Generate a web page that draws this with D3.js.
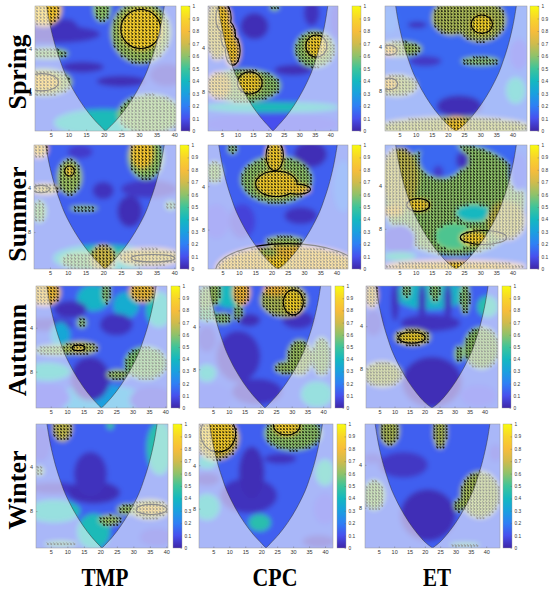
<!DOCTYPE html>
<html>
<head>
<meta charset="utf-8">
<script src="https://cdn.jsdelivr.net/npm/d3@7"></script>
<style>
  body { margin: 0; background: #fff; }
  svg { display: block; }
</style>
</head>
<body>
<div id="chart"></div>
<script>
// ---- data ----
const seasons = ["Spring", "Summer", "Autumn", "Winter"];
const factors = ["TMP", "CPC", "ET"];
// number of time steps in each panel
const seriesLength = [
  [40, 42, 44],
  [40, 43, 44],
  [40, 42, 44],
  [40, 42, 44],
];
const periodMin = 2.07;
const periodMax = [14.2, 15, 15.3];
const xTicks = [5, 10, 15, 20, 25, 30, 35, 40];
const yTicks = [4, 8];
const cbTicks = [0, 0.1, 0.2, 0.3, 0.4, 0.5, 0.6, 0.7, 0.8, 0.9, 1];
// cone of influence: period reached at a distance from the series edge
const coiDist = [3.2, 3.9, 4.6, 6.0, 7.4, 8.7, 11.5, 14.2, 16.9, 19.7];
const coiPeriod = [2, 2.5, 3, 4, 5, 6, 8, 10, 12, 14];
// base coherence of each panel
const baseLevel = [
  [0.13, 0.13, 0.15],
  [0.13, 0.13, 0.15],
  [0.13, 0.13, 0.13],
  [0.13, 0.13, 0.13],
];
// mean phase direction of arrows (deg, screen clockwise)
const phaseAngle = [
  [55, 50, 60],
  [60, 55, 65],
  [50, 55, 55],
  [55, 50, 60],
];

// coherence patches: [time, period, half-width (steps), half-height (octaves), coherence]
const springTmp = [
  [20, 12.5, 14, 0.3, 0.42], [5, 3.2, 14, 0.2, 0.03], [33, 11, 9, 0.45, 0.6],
  [38, 6, 5, 0.25, 0.05], [4, 4.3, 6, 0.12, 0.6], [3, 6.7, 8, 0.3, 0.62],
  [2.5, 6.7, 5, 0.2, 0.82], [9, 3, 4, 0.25, 0.03], [14, 5.3, 6, 0.12, 0.02],
  [25, 6.6, 7, 0.12, 0.02], [3, 2.2, 5, 0.35, 0.85], [19.5, 2.15, 2.5, 0.3, 0.6],
  [30.5, 3.1, 8.5, 0.7, 0.62], [30.7, 2.95, 6, 0.47, 0.88],
];
const springCpc = [
  [21, 10.3, 22, 0.12, 0.42], [21, 13.5, 22, 0.25, 0.1], [42, 2.6, 2, 0.4, 0.08],
  [15.5, 2.85, 4.5, 0.3, 0.02], [34, 2.3, 2.5, 0.3, 0.03], [28, 5.7, 6, 0.12, 0.02],
  [3.5, 3, 4, 0.7, 0.7], [5.5, 2.5, 2.5, 0.3, 0.85], [7, 3.3, 2.4, 0.3, 0.85],
  [8.5, 4.2, 2.5, 0.35, 0.85],
  [35, 4.1, 6.5, 0.42, 0.6], [35.5, 3.9, 3.5, 0.25, 0.88],
  [12, 7.3, 12, 0.38, 0.6], [4, 7.3, 4, 0.3, 0.75], [14, 7, 4, 0.25, 0.88],
  [22, 2.1, 1.5, 0.08, 0.6],
];
const springEt = [
  [2, 2.6, 2.5, 0.3, 0.18], [42, 4.5, 3, 0.35, 0.1], [41, 8, 3, 0.3, 0.42],
  [21, 2.5, 6, 0.4, 0.65], [30, 2.6, 8, 0.5, 0.65], [30.5, 2.77, 3.3, 0.22, 0.9],
  [10.5, 2.8, 3, 0.08, 0.03], [5, 4.1, 7, 0.18, 0.62], [1.8, 4.2, 2.5, 0.12, 0.8],
  [30, 5, 6, 0.1, 0.6], [13, 5, 5, 0.12, 0.04], [4, 7.4, 6.5, 0.25, 0.64],
  [1.8, 7.2, 2.8, 0.14, 0.8], [23.5, 10.3, 7, 0.25, 0.02],
  [22, 14.5, 24, 0.25, 0.66], [22.5, 14.5, 3.5, 0.25, 0.86],
];
const summerTmp = [
  [20, 12, 14, 0.3, 0.42], [33, 4.1, 8, 0.2, 0.04], [20, 4.2, 3, 0.2, 0.03],
  [27.5, 5.8, 3.5, 0.35, 0.02], [13.5, 2.3, 3.5, 0.15, 0.05], [2, 2.2, 2.5, 0.2, 0.78],
  [3.5, 4.1, 4, 0.12, 0.7], [2, 5.8, 2, 0.25, 0.58], [10.5, 3.4, 3.5, 0.4, 0.62],
  [10.5, 3.1, 1.2, 0.12, 0.85], [14.5, 5.55, 4, 0.06, 0.6], [39, 5.3, 1.5, 0.1, 0.58],
  [32, 2.5, 5, 0.5, 0.6], [31, 2.35, 3.2, 0.35, 0.85], [14, 12.5, 6, 0.2, 0.58],
  [33, 11.8, 9, 0.2, 0.72], [20, 12, 3.5, 0.3, 0.7],
];
const summerCpc = [
  [32, 2.4, 5, 0.3, 0.02], [29, 6.4, 5, 0.2, 0.03], [11, 7, 4, 0.4, 0.07],
  [3, 7, 4, 0.4, 0.1], [2.5, 3.2, 2.5, 0.25, 0.6], [42, 4, 3, 0.6, 0.18],
  [21.5, 3.6, 11, 0.55, 0.6], [21, 2.45, 2.8, 0.35, 0.88], [21.5, 3.85, 6.5, 0.3, 0.88],
  [28, 4.2, 4, 0.12, 0.86], [8, 2.2, 1.5, 0.12, 0.6], [25, 15, 22, 0.55, 0.78],
  [24, 9.6, 6, 0.12, 0.62], [19, 11.5, 3, 0.1, 0.62], [22, 14.5, 4, 0.25, 0.88],
];
const summerEt = [
  [22, 5, 22, 1.3, 0.6], [5, 3.5, 6, 0.7, 0.68], [18, 2.6, 7, 0.45, 0.15],
  [24.5, 2.65, 2, 0.2, 0.03], [17, 3.2, 1.6, 0.15, 0.05], [28, 6.2, 5.5, 0.2, 0.4],
  [22, 9, 6, 0.3, 0.52], [10.8, 5.45, 3.6, 0.15, 0.88], [28, 9.3, 4.2, 0.16, 0.88],
  [3, 6, 3.5, 0.12, 0.78], [5, 9.5, 5, 0.35, 0.08], [38, 7, 6, 0.45, 0.68],
  [42, 3.2, 3, 0.45, 0.12], [5, 12.5, 5, 0.1, 0.45], [22, 14.8, 22, 0.15, 0.78],
  [22.5, 14.8, 2.5, 0.15, 0.88],
];
const autumnTmp = [
  [20, 12.5, 14, 0.35, 0.3], [4, 8, 7, 0.2, 0.42], [4, 12, 7, 0.3, 0.1],
  [4, 3.8, 8, 0.15, 0.04], [38, 3, 4, 0.4, 0.42], [36, 12.5, 7, 0.3, 0.08],
  [18, 2.5, 5, 0.3, 0.38], [28, 2.8, 4, 0.3, 0.35], [8, 4.5, 3, 0.3, 0.33],
  [11, 3, 5, 0.2, 0.02], [25, 3.8, 5, 0.25, 0.03], [17, 9, 6, 0.5, 0.02],
  [3, 2.3, 5, 0.3, 0.78], [22, 2.3, 1.3, 0.25, 0.6], [33, 2.25, 4, 0.25, 0.78],
  [14.5, 3.7, 1.5, 0.12, 0.6], [7, 5.7, 7, 0.12, 0.6], [14, 5.5, 5.5, 0.15, 0.65],
  [13.5, 5.5, 1.8, 0.06, 0.82], [34, 7, 6.5, 0.38, 0.58], [25.5, 8.4, 3.5, 0.12, 0.62],
];
const autumnCpc = [
  [3, 4.9, 3, 0.3, 0.06], [3, 8.5, 3, 0.2, 0.42], [5, 12.5, 6, 0.3, 0.12],
  [38, 12, 5, 0.3, 0.42], [10, 2.4, 5, 0.3, 0.4], [13, 6.5, 7, 0.6, 0.03], [32, 3.6, 5, 0.2, 0.03],
  [19, 11.5, 8, 0.3, 0.03], [2.5, 2.6, 2.5, 0.35, 0.6], [5.5, 2.3, 1.8, 0.3, 0.62],
  [14, 2.3, 2.8, 0.3, 0.8], [13, 3.2, 1.5, 0.2, 0.6], [27.5, 2.6, 7.5, 0.4, 0.65],
  [25, 2.2, 4, 0.15, 0.8], [30.5, 2.7, 3.2, 0.3, 0.9], [8, 3.5, 3, 0.13, 0.6],
  [3, 3.3, 3, 0.15, 0.55], [16.5, 3.6, 3.5, 0.15, 0.02], [32.5, 6.6, 4, 0.42, 0.62],
  [39.5, 6.5, 3, 0.45, 0.6], [28.5, 7.8, 4, 0.15, 0.62],
];
const autumnEt = [
  [3, 3.8, 3, 0.3, 0.06], [22, 2.4, 12, 0.35, 0.38], [41, 2.9, 3.5, 0.25, 0.45], [38, 12.5, 6, 0.25, 0.1],
  [22, 3.8, 10, 0.2, 0.03], [10.2, 2.7, 1.3, 0.45, 0.03], [19.2, 2.7, 1.3, 0.45, 0.03],
  [27.8, 2.7, 1.3, 0.45, 0.03], [22.5, 10, 10, 0.6, 0.02], [2.3, 2.4, 2.2, 0.3, 0.75],
  [14, 2.2, 1.2, 0.2, 0.6], [23.5, 2.25, 1.6, 0.25, 0.6], [33.5, 2.5, 1.6, 0.4, 0.6],
  [16, 4.8, 6, 0.2, 0.65], [15.8, 4.83, 4.5, 0.14, 0.9], [39, 5.7, 6, 0.5, 0.6],
  [31.5, 6.3, 1.5, 0.2, 0.6], [6, 8.8, 6.5, 0.3, 0.65],
];
const winterTmp = [
  [2, 2.8, 3, 0.4, 0.08], [6, 8, 8, 0.25, 0.42], [6, 5.6, 8, 0.13, 0.04],
  [38, 3, 4, 0.6, 0.45], [37, 12, 5, 0.2, 0.08], [18, 6, 8, 0.25, 0.02],
  [17, 4.5, 5, 0.5, 0.03], [18, 11, 5, 0.4, 0.42], [8.5, 2.2, 3, 0.3, 0.68],
  [23, 2.1, 1, 0.1, 0.5], [1.5, 4.3, 1.5, 0.1, 0.6], [8, 13.3, 5, 0.06, 0.57],
  [35, 7.8, 6, 0.22, 0.65], [35.5, 7.8, 4.5, 0.1, 0.8], [23, 9.2, 3.5, 0.12, 0.62],
  [28, 7.8, 3, 0.12, 0.62],
];
const winterCpc = [
  [3, 3.8, 3, 0.15, 0.42], [3, 7.8, 4, 0.3, 0.42], [3, 5, 4, 0.15, 0.04],
  [40, 4.5, 3, 0.3, 0.45], [40, 8, 3.5, 0.35, 0.1], [38, 13.5, 5, 0.15, 0.04],
  [16, 6.5, 9, 0.4, 0.03], [17, 4.5, 4, 0.6, 0.02], [26, 3.6, 5, 0.12, 0.03],
  [19.5, 10, 3.5, 0.2, 0.45], [6, 2.6, 7, 0.5, 0.7], [6.5, 2.4, 5.5, 0.45, 0.88],
  [30, 2.4, 9, 0.4, 0.6], [28, 2.15, 4.3, 0.22, 0.88],
];
const winterEt = [
  [3, 3.6, 3, 0.12, 0.06], [43, 3.3, 2, 0.2, 0.08], [13, 4, 8, 0.3, 0.04],
  [21, 9, 9, 0.6, 0.02], [8.5, 2.3, 3.2, 0.35, 0.65], [25, 2.35, 2.3, 0.4, 0.65],
  [38, 6.5, 6.5, 0.55, 0.64], [31, 7.7, 1.5, 0.15, 0.62], [3.5, 6.5, 3.5, 0.35, 0.6],
  [33, 14.5, 5, 0.05, 0.56],
];
const patches = [
  [springTmp, springCpc, springEt],
  [summerTmp, summerCpc, summerEt],
  [autumnTmp, autumnCpc, autumnEt],
  [winterTmp, winterCpc, winterEt],
];

// significance contours: [time, period, half-width, half-height (octaves)]
const contours = [
  [
    [[30.5, 2.95, 5.5, 0.42], [2.5, 6.7, 4.5, 0.18]],
    [[5.5, 2.5, 2.3, 0.32], [7, 3.3, 2.2, 0.3], [8.5, 4.2, 2.2, 0.32], [35.5, 3.9, 3.2, 0.24], [14, 7, 3.8, 0.24]],
    [[30.5, 2.77, 3.1, 0.2], [1.8, 4.2, 2.3, 0.1], [1.8, 7.2, 2.5, 0.12]],
  ],
  [
    [[10.5, 3.1, 1.2, 0.1], [2.5, 4.1, 2.2, 0.07], [34, 12, 6, 0.07]],
    [[21, 2.45, 2.5, 0.33], [21.5, 3.85, 6.2, 0.28], [28, 4.2, 3.8, 0.1], [25, 15.5, 22, 0.62]],
    [[10.8, 5.45, 3.4, 0.14], [31, 9.2, 7, 0.15]],
  ],
  [
    [[13.5, 5.5, 1.8, 0.05]],
    [[30.5, 2.7, 3, 0.28]],
    [[15.8, 4.83, 4.2, 0.12]],
  ],
  [
    [[35.5, 7.8, 4.5, 0.1]],
    [[6.5, 2.4, 5.3, 0.42], [28, 2.1, 4, 0.22]],
    [],
  ],
];

// ---- layout (pixels) ----
const rowBox = [[6, 131], [145, 269], [286, 408], [424, 548]];
const colBox = [
  [[35, 176, 181], [208, 338, 352], [385, 527, 530]],
  [[34, 176, 180], [208, 348, 352], [385, 527, 530]],
  [[36, 167, 171], [199, 331, 335], [366, 498, 502]],
  [[36, 168, 173], [199, 333, 337], [365, 500, 503]],
];
const rowLabelY = [72, 214, 350, 490];
const colLabelX = [105, 275, 437];
const colLabelLen = [47, 45, 28];
const cbWidth = 9;

const parulaStops = ["#3e26a8", "#4750ee", "#2f7ff5", "#1aa0df", "#14b8c0", "#3ec49a",
  "#8fc26a", "#d0bb4c", "#f7bd3a", "#f8d52a", "#f9fb0e"];
const color = d3.scaleLinear()
  .domain(parulaStops.map((c, i) => i / (parulaStops.length - 1)))
  .range(parulaStops)
  .clamp(true);

const svg = d3.select("#chart").append("svg")
  .attr("width", 550)
  .attr("height", 592);
const defs = svg.append("defs");

defs.append("filter")
  .attr("id", "soft")
  .attr("x", "-10%").attr("y", "-10%").attr("width", "120%").attr("height", "120%")
  .append("feGaussianBlur")
  .attr("stdDeviation", 2.6);

var grad = defs.append("linearGradient")
  .attr("id", "parula")
  .attr("x1", 0).attr("y1", 1).attr("x2", 0).attr("y2", 0);
parulaStops.forEach((c, i) => {
  grad.append("stop")
    .attr("offset", i / (parulaStops.length - 1))
    .attr("stop-color", c);
});

let drawPanel = (i, j) => {
  var [top, bottom] = rowBox[i],
    [left, right, cbLeft] = colBox[i][j],
    w = right - left,
    h = bottom - top,
    len = seriesLength[i][j],
    pMax = periodMax[j],
    blobs = patches[i][j];

  var x = d3.scaleLinear().domain([0.5, len + 0.5]).range([0, w]),
    y = d3.scaleLog().base(2).domain([periodMin, pMax]).range([0, h]),
    kx = w / len,
    oct = h / Math.log2(pMax / periodMin);

  var g = svg.append("g").attr("transform", `translate(${left}, ${top})`);
  var clipId = `clip-${i}-${j}`;
  defs.append("clipPath").attr("id", clipId)
    .append("rect").attr("width", w).attr("height", h);

  var field = g.append("g").attr("clip-path", `url(#${clipId})`);

  // coherence field
  var blurred = field.append("g").attr("filter", "url(#soft)");
  blurred.append("rect")
    .attr("x", -20).attr("y", -20)
    .attr("width", w + 40).attr("height", h + 40)
    .attr("fill", color(baseLevel[i][j]));
  blurred.selectAll("ellipse")
    .data(blobs)
    .join("ellipse")
    .attr("cx", (d) => x(d[0]))
    .attr("cy", (d) => y(d[1]))
    .attr("rx", (d) => d[2] * kx)
    .attr("ry", (d) => d[3] * oct)
    .attr("fill", (d) => color(d[4]));

  // phase arrows where coherence is high
  var arrows = [];
  for (var t = 1; t <= len; t++) {
    for (var k = 0; ; k++) {
      var p = periodMin * Math.pow(2, (k + 0.5) / 14);
      if (p > pMax) break;
      var px = x(t), py = y(p);
      for (var b = blobs.length - 1; b >= 0; b--) {
        var d = blobs[b],
          dx = (px - x(d[0])) / (d[2] * kx),
          dy = (py - y(d[1])) / (d[3] * oct);
        if (dx * dx + dy * dy <= 1) {
          if (d[4] >= 0.55) arrows.push([px, py]);
          break;
        }
      }
    }
  }
  field.append("g")
    .selectAll("path")
    .data(arrows)
    .join("path")
    .attr("d", "M-1.4,0H1.1M0.2,-0.85L1.4,0L0.2,0.85")
    .attr("transform", (d) => `translate(${d[0]},${d[1]}) rotate(${phaseAngle[i][j]})`)
    .attr("fill", "none")
    .attr("stroke", "#000")
    .attr("stroke-width", 0.6);

  // significance contours (outline of union)
  var cons = contours[i][j];
  var maskId = `mask-${i}-${j}`;
  var mask = defs.append("mask").attr("id", maskId)
    .attr("maskUnits", "userSpaceOnUse")
    .attr("x", -10).attr("y", -10).attr("width", w + 20).attr("height", h + 20);
  mask.append("rect")
    .attr("x", -10).attr("y", -10).attr("width", w + 20).attr("height", h + 20)
    .attr("fill", "white");
  mask.selectAll("ellipse")
    .data(cons)
    .join("ellipse")
    .attr("cx", (d) => x(d[0])).attr("cy", (d) => y(d[1]))
    .attr("rx", (d) => d[2] * kx).attr("ry", (d) => d[3] * oct)
    .attr("fill", "black");
  field.append("g")
    .attr("mask", `url(#${maskId})`)
    .selectAll("ellipse")
    .data(cons)
    .join("ellipse")
    .attr("cx", (d) => x(d[0])).attr("cy", (d) => y(d[1]))
    .attr("rx", (d) => d[2] * kx).attr("ry", (d) => d[3] * oct)
    .attr("fill", "none")
    .attr("stroke", "#000")
    .attr("stroke-width", 2.2);

  // cone of influence
  var half = (len + 1) / 2;
  var leftPts = coiDist.map((dd, n) => [0.5 + dd, coiPeriod[n]]).filter((q) => q[0] < half - 0.2),
    rightPts = coiDist.map((dd, n) => [len + 0.5 - dd, coiPeriod[n]]).filter((q) => q[0] > half + 0.2).reverse(),
    apex = [half, pMax];
  var coiLine = d3.line()
    .x((d) => x(d[0]))
    .y((d) => y(d[1]))
    .curve(d3.curveCatmullRom);
  var cone = coiLine([...leftPts, apex]) + coiLine([apex, ...rightPts]).replace(/^M/, "L");

  field.append("path")
    .attr("d", `M-5,-5H${w + 5}V${h + 5}H-5Z` + cone + "Z")
    .attr("fill", "#fff")
    .attr("fill-opacity", 0.55)
    .attr("fill-rule", "evenodd");
  field.append("path")
    .attr("d", cone)
    .attr("fill", "none")
    .attr("stroke", "#333")
    .attr("stroke-width", 0.5);

  // frame and axes
  g.append("rect")
    .attr("width", w).attr("height", h)
    .attr("fill", "none")
    .attr("stroke", "#999")
    .attr("stroke-width", 0.5);

  var styleAxis = (a, size) => {
    a.select(".domain").remove();
    a.attr("font-family", "Arial, 'Liberation Sans', sans-serif").attr("font-size", size);
    a.selectAll("text").attr("fill", "#333");
    a.selectAll("line").attr("stroke", "#666").attr("stroke-width", 0.4);
  };

  g.append("g")
    .attr("transform", `translate(0, ${h})`)
    .call(d3.axisBottom(x).tickValues(xTicks).tickSize(-1.5).tickPadding(2.5).tickFormat(d3.format("d")))
    .call((a) => styleAxis(a, 5.5));
  g.append("g")
    .call(d3.axisLeft(y).tickValues(yTicks).tickSize(-1.5).tickPadding(3).tickFormat(d3.format("d")))
    .call((a) => styleAxis(a, 5.5));

  // colour bar
  var cx0 = cbLeft - left;
  g.append("rect")
    .attr("x", cx0).attr("width", cbWidth).attr("height", h)
    .attr("fill", "url(#parula)")
    .attr("stroke", "#999")
    .attr("stroke-width", 0.4);
  var cScale = d3.scaleLinear().domain([0, 1]).range([h, 0]);
  g.append("g")
    .attr("transform", `translate(${cx0 + cbWidth}, 0)`)
    .call(d3.axisRight(cScale).tickValues(cbTicks).tickSize(-1.5).tickPadding(2.5).tickFormat((v) => `${+v.toFixed(1)}`))
    .call((a) => styleAxis(a, 4.8));
};

for (var i = 0; i < seasons.length; i++) {
  for (var j = 0; j < factors.length; j++) {
    drawPanel(i, j);
  }
}

// row and column labels
svg.selectAll(".row-label")
  .data(seasons)
  .join("text")
  .attr("class", "row-label")
  .attr("transform", (d, k) => `translate(26, ${rowLabelY[k]}) rotate(-90)`)
  .attr("text-anchor", "middle")
  .attr("font-family", "'Liberation Serif', 'Times New Roman', serif")
  .attr("font-weight", "bold")
  .attr("font-size", 26)
  .text((d) => d);

svg.selectAll(".col-label")
  .data(factors)
  .join("text")
  .attr("class", "col-label")
  .attr("x", (d, k) => colLabelX[k] - colLabelLen[k] / 2)
  .attr("y", 586)
  .attr("textLength", (d, k) => colLabelLen[k])
  .attr("lengthAdjust", "spacingAndGlyphs")
  .attr("font-family", "'Liberation Serif', 'Times New Roman', serif")
  .attr("font-weight", "bold")
  .attr("font-size", 26)
  .text((d) => d);
</script>
</body>
</html>
